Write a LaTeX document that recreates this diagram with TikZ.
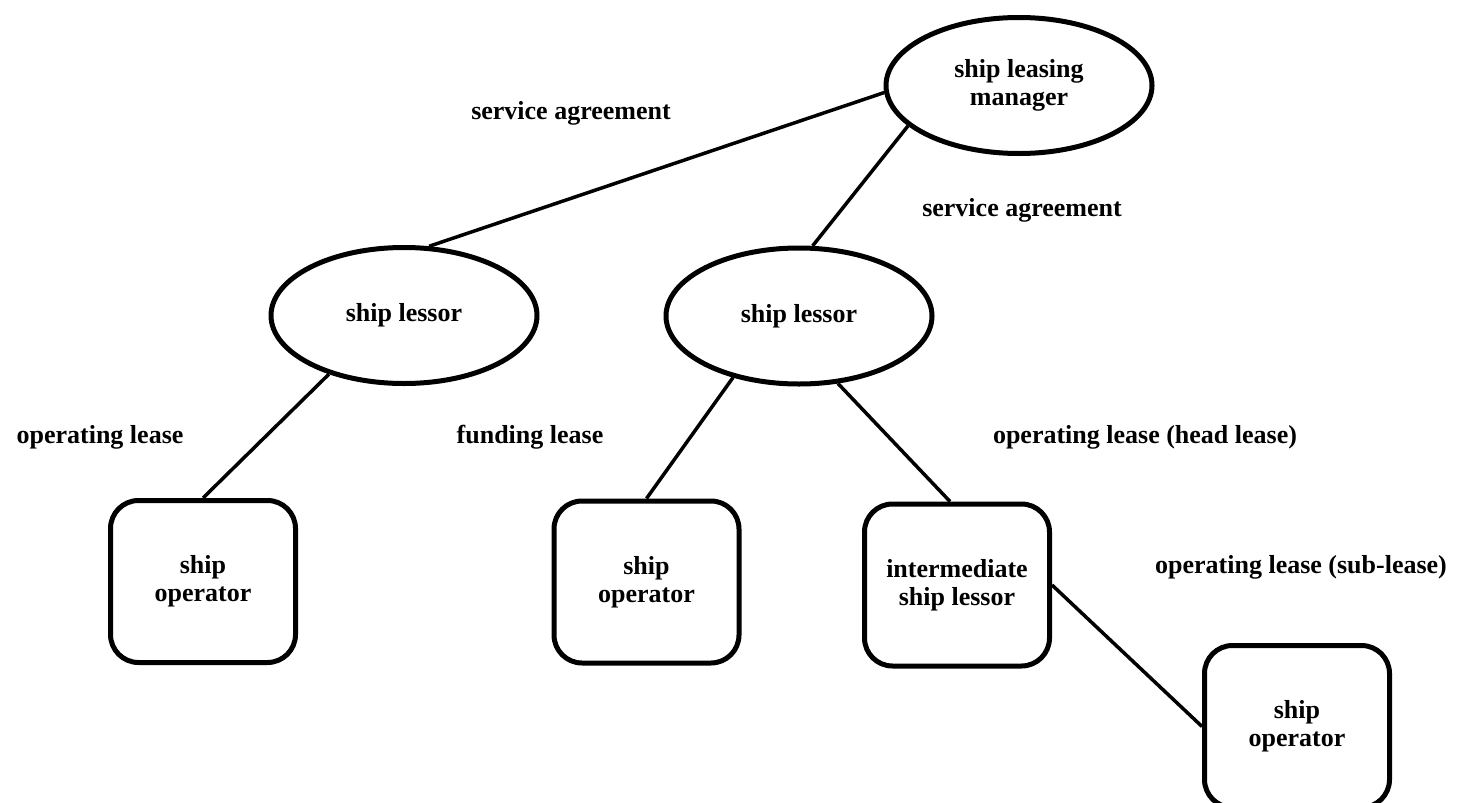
\documentclass[tikz,border=0pt]{standalone}
\usepackage{fontspec}
\setmainfont{Liberation Serif}
\usetikzlibrary{shapes.geometric}
\begin{document}
\begin{tikzpicture}[x=1pt,y=-1pt,
  every node/.style={font=\bfseries\fontsize{26}{28}\selectfont, align=center},
  party/.style={ellipse, draw, line width=5pt, minimum width=266pt, minimum height=136pt, inner sep=0pt},
  boxnode/.style={rectangle, draw, line width=5pt, rounded corners=28pt, minimum width=185pt, minimum height=162pt, inner sep=0pt},
  link/.style={line width=3.5pt},
  lbl/.style={inner sep=0pt}]
\useasboundingbox (0,0) rectangle (1475,803);
\node[party] (mgr) at (1019,85.5) {ship leasing\\manager};
\node[party] (lessorL) at (404,315.5) {ship lessor};
\node[party] (lessorM) at (799,316) {ship lessor};
\node[boxnode] (boxL) at (203,581.5) {ship\\operator};
\node[boxnode] (boxM) at (646.5,582) {ship\\operator};
\node[boxnode] (inter) at (957,585) {intermediate\\ship lessor};
\node[boxnode] (bot) at (1297,726.5) {ship\\operator};
\draw[link] (mgr.183) -- (lessorL.70);
\draw[link] (mgr.200) -- (lessorM.79);
\draw[link] (lessorL.218) -- (boxL.north);
\draw[link] (lessorM.223) -- (boxM.north);
\draw[link] (lessorM.300) -- ([xshift=-7pt]inter.north);
\draw[link] (inter.east) -- (bot.west);
\node[lbl] (l1) at (571,113) {service agreement};
\node[lbl] (l2) at (1022,210) {service agreement};
\node[lbl] (l3) at (100,437) {operating lease};
\node[lbl] (l4) at (530,437) {funding lease};
\node[lbl] (l5) at (1145,437) {operating lease (head lease)};
\node[lbl] (l6) at (1301,567) {operating lease (sub-lease)};
\end{tikzpicture}
\end{document}
